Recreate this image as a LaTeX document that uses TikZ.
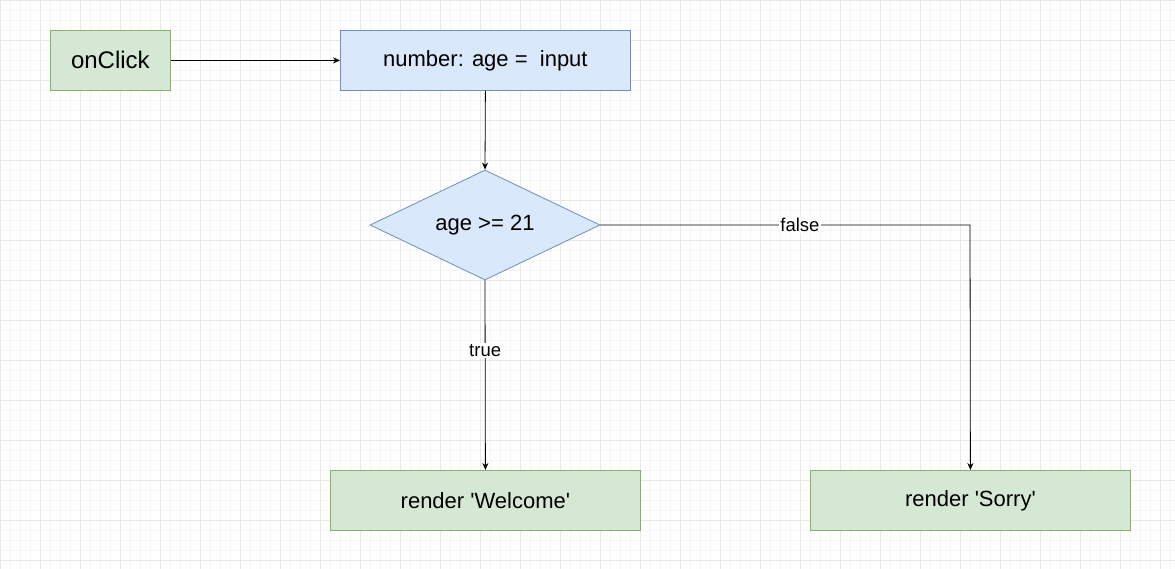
\documentclass[tikz,border=0pt]{standalone}
\usepackage{fontspec}
\setmainfont{Liberation Sans}
\usetikzlibrary{shapes.geometric,arrows.meta}
\definecolor{gfill}{HTML}{D5E8D4}
\definecolor{gline}{HTML}{82B366}
\definecolor{bfill}{HTML}{DAE8FC}
\definecolor{bline}{HTML}{6C8EBF}
\definecolor{gridminor}{HTML}{F5F5F5}
\definecolor{gridmajor}{HTML}{E8E8E8}
\newcommand{\sq}{\textquotesingle}
\begin{document}
\begin{tikzpicture}[x=1pt,y=-1pt,
  greenbox/.style={draw=gline,fill=gfill,line width=0.8pt,rectangle,inner sep=0pt,anchor=north west,font=\fontsize{22}{26}\selectfont},
  bluebox/.style={draw=bline,fill=bfill,line width=0.8pt,rectangle,inner sep=0pt,anchor=north west,font=\fontsize{22}{26}\selectfont},
  decision/.style={draw=bline,fill=bfill,line width=0.8pt,diamond,inner sep=0pt,minimum width=230pt,minimum height=110pt,aspect=2.09,font=\fontsize{22}{26}\selectfont},
  conn/.style={line width=0.8pt,-{Stealth[length=7pt,width=6pt]}},
  elabel/.style={fill=white,inner sep=1pt,font=\fontsize{18.5}{22}\selectfont}
]
\useasboundingbox (0,0) rectangle (1175,569);
\fill[white] (0,0) rectangle (1175,569);
\foreach \x in {10,20,...,1170} {\draw[gridminor,line width=0.8pt] (\x,0) -- (\x,569);}
\foreach \y in {10,20,...,560} {\draw[gridminor,line width=0.8pt] (0,\y) -- (1175,\y);}
\foreach \x in {0,40,...,1160} {\draw[gridmajor,line width=0.8pt] (\x,0) -- (\x,569);}
\foreach \y in {0,40,...,560} {\draw[gridmajor,line width=0.8pt] (0,\y) -- (1175,\y);}

\node[greenbox,minimum width=120pt,minimum height=60pt,font=\fontsize{24}{28}\selectfont] (click) at (50,30) {onClick};
\node[bluebox,minimum width=290pt,minimum height=60pt] (input) at (340,30) {number: age =\ \ input};
\node[decision] (dec) at (485,225) {age >= 21};
\node[greenbox,minimum width=310pt,minimum height=60pt] (welcome) at (330,470) {render \sq Welcome\sq};
\node[greenbox,minimum width=320pt,minimum height=60pt] (sorry) at (810,470) {render \sq Sorry\sq};

\draw[conn] (click.east) -- (input.west);
\draw[conn] (input.south) -- (dec.north);
\draw[conn] (dec.south) -- node[elabel,pos=0.37] {true} (welcome.north);
\coordinate (corner) at (970,225);
\draw[conn] (dec.east) -- node[elabel,pos=0.54] {false} (corner) -- (sorry.north);
\end{tikzpicture}
\end{document}
